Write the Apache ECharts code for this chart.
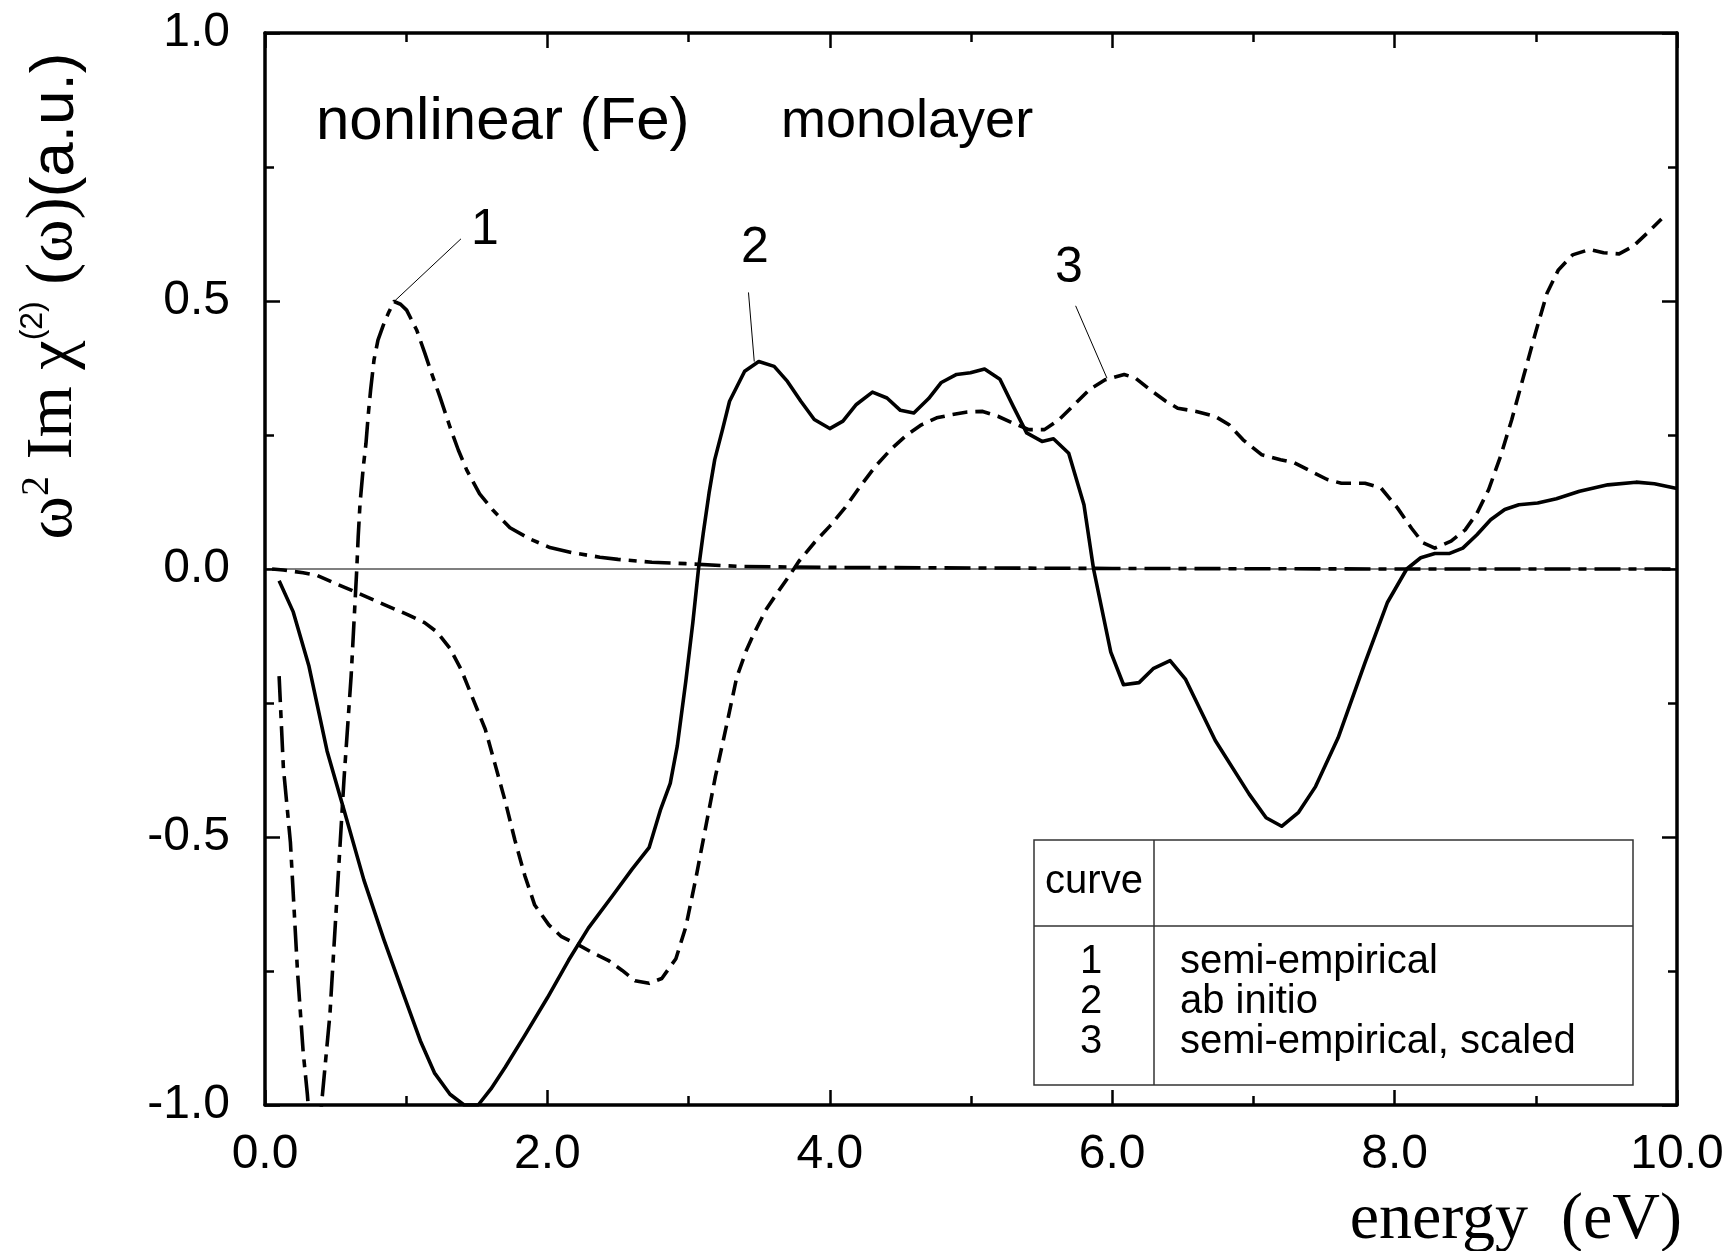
<!DOCTYPE html>
<html>
<head>
<meta charset="utf-8">
<script src="https://cdn.jsdelivr.net/npm/echarts@6/dist/echarts.min.js"></script>
<style>
html,body{margin:0;padding:0;background:#fff;}
#chart{width:1733px;height:1251px;}
</style>
</head>
<body>
<div id="chart"></div>
<script>
// ---- data ----
const xTicks = [0, 2, 4, 6, 8, 10];
const yTicks = [-1.0, -0.5, 0.0, 0.5, 1.0];

// curve 1: semi-empirical (dash-dot)
const c1x = [0.10,0.13,0.18,0.23,0.27,0.30,0.35,0.40,0.46,0.51,0.56,0.61,0.65,0.66,0.673,0.696,0.715,0.732,0.748,0.772,0.80,0.838,0.873,0.914,0.96,1.003,1.074,1.133,1.18,1.239,1.31,1.369,1.428,1.52,1.617,1.735,1.877,2.018,2.184,2.372,2.5,2.74,2.98,3.34,3.6,4.0,5.0,6.0,7.0,8.0,9.0,10.0];
const c1y = [-0.20,-0.37,-0.51,-0.75,-0.90,-0.98,-1.15,-1.0,-0.83,-0.61,-0.39,-0.20,0.0,0.06,0.122,0.19,0.234,0.29,0.334,0.39,0.427,0.455,0.477,0.499,0.494,0.483,0.446,0.402,0.365,0.321,0.265,0.222,0.185,0.14,0.109,0.077,0.056,0.04,0.03,0.022,0.018,0.0125,0.01,0.005,0.004,0.003,0.002,0.001,0.0005,0,0,0];

// curve 2: ab initio (solid)
const c2x = [0.10,0.20,0.31,0.44,0.56,0.70,0.84,0.99,1.10,1.20,1.31,1.41,1.51,1.60,1.70,1.84,2.0,2.15,2.29,2.46,2.60,2.72,2.80,2.87,2.92,2.98,3.03,3.07,3.104,3.145,3.185,3.24,3.29,3.397,3.497,3.606,3.70,3.795,3.89,4.0,4.093,4.188,4.302,4.405,4.50,4.595,4.70,4.79,4.898,4.996,5.096,5.205,5.30,5.394,5.503,5.584,5.692,5.80,5.868,5.99,6.08,6.19,6.29,6.41,6.52,6.73,6.97,7.09,7.20,7.32,7.44,7.60,7.79,7.95,8.086,8.185,8.285,8.39,8.483,8.583,8.68,8.78,8.88,9.013,9.146,9.31,9.51,9.71,9.84,10.0];
const c2y = [-0.022,-0.08,-0.18,-0.34,-0.45,-0.58,-0.69,-0.80,-0.88,-0.94,-0.98,-1.0,-1.0,-0.97,-0.93,-0.87,-0.80,-0.73,-0.67,-0.61,-0.56,-0.52,-0.45,-0.40,-0.33,-0.21,-0.10,0.0,0.067,0.142,0.204,0.26,0.313,0.369,0.387,0.378,0.35,0.313,0.279,0.262,0.276,0.307,0.33,0.319,0.296,0.291,0.318,0.348,0.363,0.366,0.373,0.354,0.303,0.254,0.238,0.243,0.216,0.12,0.0,-0.155,-0.216,-0.212,-0.186,-0.171,-0.206,-0.32,-0.42,-0.464,-0.48,-0.454,-0.406,-0.315,-0.175,-0.062,0.0,0.021,0.029,0.029,0.039,0.064,0.092,0.111,0.12,0.123,0.131,0.145,0.157,0.162,0.159,0.15];

// curve 3: semi-empirical, scaled (dashed)
const c3x = [0.05,0.13,0.27,0.37,0.49,0.65,0.84,1.01,1.13,1.22,1.31,1.39,1.48,1.56,1.63,1.70,1.77,1.84,1.91,2.01,2.10,2.21,2.32,2.43,2.53,2.62,2.72,2.81,2.91,2.98,3.05,3.12,3.19,3.27,3.34,3.41,3.46,3.55,3.64,3.72,3.78,3.89,4.0,4.107,4.215,4.324,4.432,4.54,4.649,4.757,4.866,4.974,5.083,5.19,5.30,5.41,5.52,5.625,5.733,5.84,5.95,6.085,6.166,6.265,6.38,6.464,6.596,6.728,6.828,6.927,7.06,7.192,7.29,7.41,7.523,7.623,7.79,7.904,8.02,8.12,8.20,8.285,8.40,8.5,8.583,8.666,8.75,8.83,8.914,8.997,9.08,9.16,9.26,9.38,9.48,9.59,9.69,9.79,9.89];
const c3y = [0.0,-0.002,-0.007,-0.012,-0.026,-0.044,-0.066,-0.085,-0.10,-0.118,-0.148,-0.188,-0.247,-0.299,-0.365,-0.432,-0.506,-0.572,-0.627,-0.664,-0.686,-0.70,-0.716,-0.73,-0.749,-0.768,-0.773,-0.764,-0.727,-0.668,-0.579,-0.483,-0.387,-0.29,-0.203,-0.151,-0.122,-0.075,-0.04,-0.01,0.014,0.049,0.08,0.114,0.154,0.192,0.223,0.249,0.269,0.282,0.288,0.293,0.294,0.285,0.272,0.26,0.26,0.279,0.307,0.335,0.353,0.363,0.356,0.335,0.313,0.30,0.294,0.285,0.269,0.241,0.213,0.204,0.198,0.182,0.167,0.16,0.16,0.151,0.114,0.076,0.049,0.039,0.052,0.073,0.104,0.148,0.21,0.279,0.36,0.44,0.515,0.558,0.586,0.596,0.59,0.588,0.602,0.627,0.653];

const zeroLine = [[0, 0], [10, 0]];
const curveLabels = ['1', '2', '3'];
const labelX = [1.558, 3.47, 5.694];
const labelY = [0.632, 0.599, 0.561];
const leaderFrom = [[1.388, 0.616], [3.424, 0.516], [5.741, 0.491]];
const leaderTo = [[0.914, 0.499], [3.465, 0.387], [5.963, 0.356]];
const curveNames = ['semi-empirical', 'ab initio', 'semi-empirical, scaled'];
const tableHeader = 'curve';
const xTitle = 'energy  (eV)';
const panelTitle = 'nonlinear (Fe)';
const panelSubtitle = 'monolayer';

// ---- build ----
const zip = (xs, ys) => xs.map((x, i) => [x, ys[i]]);
const SANS = '"Liberation Sans", Arial, sans-serif';
const SERIF = '"Liberation Serif", "Times New Roman", serif';
const LW = 3.6;

const chart = echarts.init(document.getElementById('chart'), null, {renderer: 'canvas'});

const baseAxisX = {
  type: 'value', min: 0, max: 10, interval: 2,
  axisLine: {show: true, onZero: false, lineStyle: {color: '#000', width: 3.5}},
  axisTick: {show: true, inside: true, length: 15, lineStyle: {color: '#000', width: 2.5}},
  minorTick: {show: true, splitNumber: 2, length: 9, lineStyle: {color: '#000', width: 2.5}},
  splitLine: {show: false}, minorSplitLine: {show: false}
};
const baseAxisY = {
  type: 'value', min: -1, max: 1, interval: 0.5,
  axisLine: {show: true, onZero: false, lineStyle: {color: '#000', width: 3.5}},
  axisTick: {show: true, inside: true, length: 15, lineStyle: {color: '#000', width: 2.5}},
  minorTick: {show: true, splitNumber: 2, length: 9, lineStyle: {color: '#000', width: 2.5}},
  splitLine: {show: false}, minorSplitLine: {show: false}
};

const leaderSeries = leaderFrom.map((p, i) => ({
  type: 'line', data: [p, leaderTo[i]], symbol: 'none', silent: true, z: 4,
  lineStyle: {color: '#000', width: 1}
}));

const staticGraphics = [
  {type: 'text', x: 316, y: 122, style: {text: panelTitle, fontSize: 60, fontFamily: SANS,
    fill: '#000', align: 'left', verticalAlign: 'middle'}},
  {type: 'text', x: 781, y: 122, style: {text: panelSubtitle, fontSize: 54, fontFamily: SANS,
    fill: '#000', align: 'left', verticalAlign: 'middle'}},
  {type: 'text', x: 1682, y: 1221, style: {text: xTitle, fontSize: 66, fontFamily: SERIF,
    fill: '#000', align: 'right', verticalAlign: 'middle'}},
  {type: 'text', x: 52, y: 296, rotation: Math.PI / 2,
    style: {
      text: '{w|ω}{s|2}{t| Im }{c|χ}{p|(2)}{t| (ω)}{a|(a.u.)}',
      align: 'center', verticalAlign: 'middle', fill: '#000',
      rich: {
        w: {fontSize: 66, fontFamily: SERIF, lineHeight: 70, verticalAlign: 'bottom'},
        s: {fontSize: 40, fontFamily: SERIF, lineHeight: 70, verticalAlign: 'top'},
        t: {fontSize: 66, fontFamily: SERIF, lineHeight: 70, verticalAlign: 'bottom'},
        c: {fontSize: 66, fontFamily: SERIF, lineHeight: 70, verticalAlign: 'bottom'},
        p: {fontSize: 32, fontFamily: SANS, lineHeight: 70, verticalAlign: 'top'},
        a: {fontSize: 62, fontFamily: SANS, lineHeight: 70, verticalAlign: 'bottom'}
      }
    }},
  // legend table
  {type: 'rect', shape: {x: 1034, y: 840, width: 599, height: 245},
    style: {fill: '#fff', stroke: '#333', lineWidth: 1.5}, z: 10},
  {type: 'line', shape: {x1: 1154, y1: 840, x2: 1154, y2: 1085},
    style: {stroke: '#333', lineWidth: 1.5}, z: 11},
  {type: 'line', shape: {x1: 1034, y1: 926, x2: 1633, y2: 926},
    style: {stroke: '#333', lineWidth: 1.5}, z: 11},
  {type: 'text', x: 1094, y: 882, z: 12, style: {text: tableHeader, fontSize: 40, fontFamily: SANS,
    fill: '#000', align: 'center', verticalAlign: 'middle'}},
  ...curveLabels.map((t, i) => ({type: 'text', x: 1091, y: 962 + i * 40, z: 12,
    style: {text: t, fontSize: 40, fontFamily: SANS, fill: '#000', align: 'center', verticalAlign: 'middle'}})),
  ...curveNames.map((t, i) => ({type: 'text', x: 1180, y: 962 + i * 40, z: 12,
    style: {text: t, fontSize: 40, fontFamily: SANS, fill: '#000', align: 'left', verticalAlign: 'middle'}}))
];

const option = {
  animation: false,
  backgroundColor: '#fff',
  grid: {left: 265, right: 56, top: 33, bottom: 146, containLabel: false},
  xAxis: [
    Object.assign({}, baseAxisX, {
      position: 'bottom',
      axisLabel: {show: true, margin: 26, color: '#000', fontSize: 48, fontFamily: SANS,
        formatter: v => xTicks.indexOf(v) >= 0 ? v.toFixed(1) : ''}
    }),
    Object.assign({}, baseAxisX, {position: 'top', axisLabel: {show: false}})
  ],
  yAxis: [
    Object.assign({}, baseAxisY, {
      position: 'left',
      axisLabel: {show: true, margin: 35, color: '#000', fontSize: 48, fontFamily: SANS,
        formatter: v => yTicks.indexOf(v) >= 0 ? v.toFixed(1) : ''}
    }),
    Object.assign({}, baseAxisY, {position: 'right', axisLabel: {show: false}})
  ],
  series: [
    {type: 'line', name: 'zero', data: zeroLine, symbol: 'none', silent: true, z: 1,
     lineStyle: {color: '#000', width: 1.2}},
    {type: 'line', name: curveNames[0], data: zip(c1x, c1y), symbol: 'none', clip: true, z: 3,
     lineStyle: {color: '#000', width: LW, type: [26, 8, 8, 8], cap: 'butt', join: 'round'}},
    {type: 'line', name: curveNames[1], data: zip(c2x, c2y), symbol: 'none', clip: true, z: 3,
     lineStyle: {color: '#000', width: LW, type: 'solid', join: 'round'}},
    {type: 'line', name: curveNames[2], data: zip(c3x, c3y), symbol: 'none', clip: true, z: 3,
     lineStyle: {color: '#000', width: LW, type: [15, 8], cap: 'butt', join: 'round'}},
    ...leaderSeries
  ],
  graphic: staticGraphics
};
chart.setOption(option);

// curve number labels placed at data coordinates via the chart's own scales
const labelGraphics = curveLabels.map((t, i) => {
  const p = chart.convertToPixel({gridIndex: 0}, [labelX[i], labelY[i]]);
  return {type: 'text', x: p[0], y: p[1], z: 12,
    style: {text: t, fontSize: 50, fontFamily: SANS, fill: '#000', align: 'center', verticalAlign: 'middle'}};
});
chart.setOption({graphic: staticGraphics.concat(labelGraphics)});
</script>
</body>
</html>
